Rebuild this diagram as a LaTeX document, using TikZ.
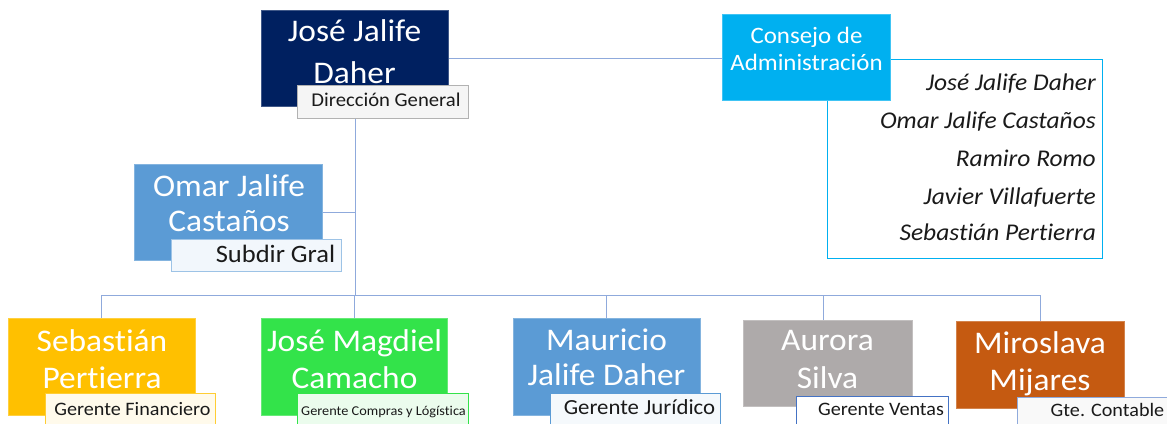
\documentclass[tikz,border=0pt]{standalone}
\usepackage{fontspec}
\setmainfont{Carlito}[FakeStretch=1.06, Ligatures={NoCommon}]
\usetikzlibrary{backgrounds}
\definecolor{cNavy}{HTML}{002060}
\definecolor{cCyan}{HTML}{00B0F0}
\definecolor{cBlue}{HTML}{5B9BD5}
\definecolor{cGold}{HTML}{FFC000}
\definecolor{cGreen}{HTML}{33E34A}
\definecolor{cGray}{HTML}{AEAAAA}
\definecolor{cRust}{HTML}{C55A11}
\definecolor{cLine}{HTML}{8FAADC}
\definecolor{cDark}{HTML}{1A1A1A}
\definecolor{cRoyal}{HTML}{4472C4}
\newcommand\fbig{\fontsize{31.5}{38}\selectfont}
\newcommand\fcons{\fontsize{23.5}{27}\selectfont}
\newcommand\fmem{\fontsize{24}{28}\selectfont\itshape}
\tikzset{
  person/.style={rectangle, fill=#1, draw=#1!75!white, line width=0.7pt,
    inner sep=0pt, outer sep=0pt},
  tag/.style={rectangle, draw=#1, line width=0.8pt, inner sep=0pt, outer sep=0pt},
  whitetext/.style={text=white, inner sep=0pt, anchor=base, font=\fbig},
  tagtext/.style={text=cDark, inner sep=0pt, anchor=base},
  memtext/.style={text=cDark, inner sep=0pt, anchor=base east, font=\fmem},
  link/.style={draw=cLine, line width=0.9pt},
}
\begin{document}
\begin{tikzpicture}[x=1pt,y=1pt]
\clip (0,0) rectangle (1167,-423);

% members box (behind the Consejo box)
\node[rectangle, draw=cCyan, line width=0.8pt, fill=white, minimum width=274.6, minimum height=199, inner sep=0pt, outer sep=0pt] (miembros) at (965,-158.8) {};
\node[memtext] (m1) at (1096,-90) {José Jalife Daher};
\node[memtext] (m2) at (1096,-128.3) {Omar Jalife Castaños};
\node[memtext] (m3) at (1096,-166.5) {Ramiro Romo};
\node[memtext] (m4) at (1096,-204) {Javier Villafuerte};
\node[memtext] (m5) at (1096,-240.7) {Sebastián Pertierra};

% main boxes
\node[person=cNavy, minimum width=187, minimum height=96] (jose) at (354.5,-58) {};
\node[person=cCyan, minimum width=168, minimum height=86.7] (consejo) at (806.7,-57.3) {};
\node[person=cBlue, minimum width=188, minimum height=96.7] (omar) at (228.3,-212.3) {};
\node[person=cGold, minimum width=186.7, minimum height=96.7] (seb) at (101.7,-366.7) {};
\node[person=cGreen, minimum width=186.7, minimum height=97] (jm) at (354.3,-366.5) {};
\node[person=cBlue, minimum width=187, minimum height=97] (mau) at (606.5,-366.5) {};
\node[person=cGray, minimum width=169, minimum height=86.7] (aur) at (827.5,-363.3) {};
\node[person=cRust, minimum width=168, minimum height=86.7] (miro) at (1040,-365) {};

% box texts
\node[whitetext] at (354.5,-41.7) {José Jalife};
\node[whitetext] at (354.5,-83.3) {Daher};
\node[whitetext, font=\fcons] at (806.5,-43.3) {Consejo de};
\node[whitetext, font=\fcons] at (806.5,-70) {Administración};
\node[whitetext] at (229,-196.7) {Omar Jalife};
\node[whitetext] at (229,-231.7) {Castaños};
\node[whitetext] at (102,-351.7) {Sebastián};
\node[whitetext] at (102,-388.3) {Pertierra};
\node[whitetext] at (354.5,-351) {José Magdiel};
\node[whitetext] at (354.5,-388) {Camacho};
\node[whitetext] at (606.5,-350.7) {Mauricio};
\node[whitetext] at (606.5,-385) {Jalife Daher};
\node[whitetext] at (827.5,-350) {Aurora};
\node[whitetext] at (827.5,-388) {Silva};
\node[whitetext] at (1040,-353) {Miroslava};
\node[whitetext] at (1040,-390) {Mijares};

% title tags
\node[tag=gray!60, fill=gray!8, minimum width=170.6, minimum height=33.3] (dirgen) at (383,-101.7) {};
\node[tagtext, font=\fontsize{19.5}{22}\selectfont] at (386,-106) {Dirección General};
\node[tag=cBlue!60!white, fill=cBlue!8!white, minimum width=170, minimum height=32.4] (subdir) at (256.7,-255.5) {};
\node[tagtext, font=\fontsize{25}{28}\selectfont] at (275.5,-262) {Subdir Gral};
\node[tag=cGold!80!white, fill=cGold!8!white, minimum width=170, minimum height=33] (lfin) at (130,-409.5) {};
\node[tagtext, font=\fontsize{19}{22}\selectfont] at (132.5,-415) {Gerente Financiero};
\node[tag=cGreen, fill=cGreen!10!white, minimum width=170.6, minimum height=32.7] (lcom) at (383,-409.7) {};
\node[tagtext, font=\fontsize{13.5}{16}\selectfont] at (383.5,-415) {Gerente Compras y Lógística};
\node[tag=cBlue, fill=cBlue!6!white, minimum width=169.3, minimum height=32.7] (ljur) at (635.3,-409.7) {};
\node[tagtext, font=\fontsize{21.5}{24}\selectfont] at (639.5,-414) {Gerente Jurídico};
\node[tag=cRoyal, fill=white, minimum width=151.3, minimum height=33.3] (lven) at (872.3,-413.3) {};
\node[tagtext, font=\fontsize{19}{22}\selectfont] at (881,-415.5) {Gerente Ventas};
\node[tag=cLine, fill=gray!5, minimum width=163, minimum height=32.7] (lcon) at (1098.5,-413.7) {};
\node[tagtext, font=\fontsize{19}{22}\selectfont] at (1107.5,-416.5) {Gte. Contable};

% connectors
\coordinate (bus) at (355,-295);
\begin{pgfonlayer}{background}
\draw[link] (jose.east) -- (jose.east -| consejo.west);
\draw[link] (dirgen.south -| bus) -- (bus);
\draw[link] (omar.east) -- (omar.east -| bus);
\draw[link] (seb.north) |- (miro.north |- bus) -- (miro.north);
\draw[link] (jm.north) -- (jm.north |- bus);
\draw[link] (mau.north) -- (mau.north |- bus);
\draw[link] ([xshift=-4.5pt]aur.north) -- ([xshift=-4.5pt]aur.north |- bus);
\end{pgfonlayer}
\end{tikzpicture}
\end{document}
